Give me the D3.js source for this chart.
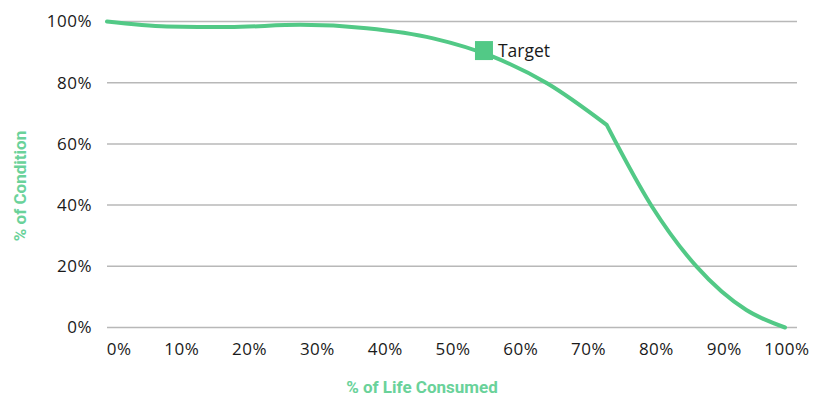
<!DOCTYPE html>
<html>
<head>
<meta charset="utf-8">
<script src="https://cdn.jsdelivr.net/npm/d3@7"></script>
<style>
  html, body { margin: 0; padding: 0; background: #fff; }
  svg { display: block; }
</style>
</head>
<body>
<svg id="chart" width="816" height="398"></svg>
<script>
// ---- data ----
const lifeConsumed = [0, 8.8, 18, 28.5, 38.3, 48.1, 56.9, 64.9, 73.7, 80.3, 87.0, 94.3, 100];
const condition    = [100, 98.4, 98.2, 98.9, 97.8, 94.5, 88.5, 79.8, 66.2, 39.8, 19.8, 5.7, 0];
const cornerIndex  = 8; // sharp bend in the curve at 73.7% life consumed
const targetPoint  = [55.6, 90.5];
const targetLabel  = "Target";
const xTicks = [0, 10, 20, 30, 40, 50, 60, 70, 80, 90, 100];
const yTicks = [0, 20, 40, 60, 80, 100];
const xTitle = "% of Life Consumed";
const yTitle = "% of Condition";

// ---- drawing ----
const svg = d3.select("#chart");
const green = "#52c986";
const titleGreen = "#6ad29a";
const tickFont = "'Open Sans', 'Liberation Sans', sans-serif";
const titleFont = "'Liberation Sans Narrow', 'Roboto', sans-serif";

const x = d3.scaleLinear().domain([0, 100]).range([107, 785]);
const y = d3.scaleLinear().domain([0, 100]).range([327.5, 21.5]);

// gridlines
svg.append("g").selectAll("line").data(yTicks).join("line")
  .attr("x1", 107).attr("x2", 797)
  .attr("y1", d => y(d)).attr("y2", d => y(d))
  .attr("stroke", "#b8b8b8").attr("stroke-width", 1.5);

// y axis labels
const yAxis = d3.axisLeft(y).tickValues(yTicks).tickFormat(d => d + "%").tickSize(0).tickPadding(0);
svg.append("g").attr("transform", "translate(92,0)").call(yAxis)
  .call(g => g.select(".domain").remove())
  .call(g => g.selectAll("text").attr("font-family", tickFont).attr("font-size", 17)
    .attr("letter-spacing", 0.5).attr("fill", "#1a1a1a"));

// x axis labels (right-aligned just after the tick position, as in reference)
const xAxis = d3.axisBottom(x).tickValues(xTicks).tickFormat(d => d + "%").tickSize(0).tickPadding(0);
svg.append("g").attr("transform", "translate(24,343)").call(xAxis)
  .call(g => g.select(".domain").remove())
  .call(g => g.selectAll("text").attr("text-anchor", "end").attr("font-family", tickFont).attr("font-size", 17)
    .attr("letter-spacing", 0.5).attr("fill", "#1a1a1a"));

// curve: two smooth pieces meeting at a sharp bend
const pts = lifeConsumed.map((v, i) => [v, condition[i]]);
const line = d3.line().x(d => x(d[0])).y(d => y(d[1])).curve(d3.curveMonotoneX);
const pieces = [pts.slice(0, cornerIndex + 1), pts.slice(cornerIndex)];
const pathD = pieces.map(p => line(p)).join(" ").replace(/ M/g, " L");
svg.append("path").attr("d", pathD)
  .attr("fill", "none").attr("stroke", green).attr("stroke-width", 4)
  .attr("stroke-linejoin", "round").attr("stroke-linecap", "round");

// target marker
svg.append("rect")
  .attr("x", x(targetPoint[0]) - 9).attr("y", y(targetPoint[1]) - 9.5)
  .attr("width", 18).attr("height", 19).attr("fill", green);
svg.append("text")
  .attr("x", x(targetPoint[0]) + 14).attr("y", y(targetPoint[1]) + 6.5)
  .attr("font-family", "'Open Sans', 'Liberation Sans', sans-serif").attr("font-size", 17.5)
  .attr("fill", "#1a1a1a").text(targetLabel);

// axis titles
svg.append("text")
  .attr("x", 422).attr("y", 393).attr("text-anchor", "middle")
  .attr("font-family", titleFont).attr("font-weight", "bold").attr("font-size", 17)
  .attr("fill", titleGreen).text(xTitle);
svg.append("text")
  .attr("transform", "translate(26,186) rotate(-90)").attr("text-anchor", "middle")
  .attr("font-family", titleFont).attr("font-weight", "bold").attr("font-size", 17)
  .attr("fill", titleGreen).text(yTitle);
</script>
</body>
</html>
